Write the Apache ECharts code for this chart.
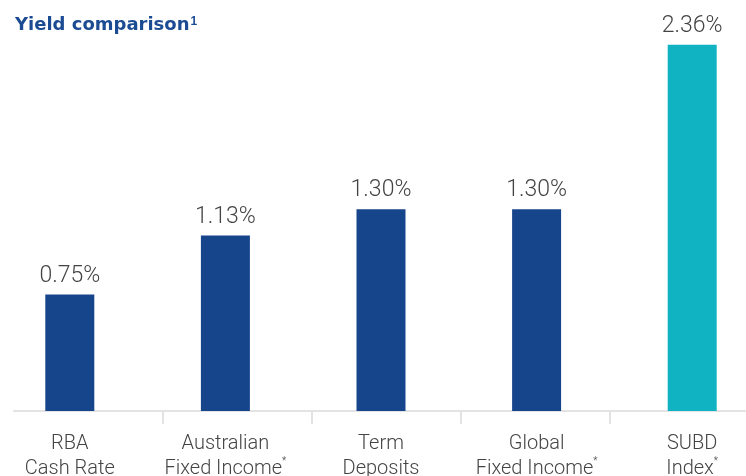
<!DOCTYPE html>
<html>
<head>
<meta charset="utf-8">
<script src="https://cdn.jsdelivr.net/npm/echarts@6/dist/echarts.min.js"></script>
<style>html,body{margin:0;padding:0;background:#fff}#c{width:746px;height:476px}</style>
</head>
<body>
<div id="c"></div>
<script>
var categories = ['RBA\nCash Rate', 'Australian\nFixed Income{sup|*}', 'Term\nDeposits', 'Global\nFixed Income{sup|*}', 'SUBD\nIndex{sup|*}'];
var yields = [0.75, 1.13, 1.30, 1.30, 2.36];
var barColors = ['#17458b', '#17458b', '#17458b', '#17458b', '#10b3c2'];

var chart = echarts.init(document.getElementById('c'), null, {renderer: 'canvas'});
chart.setOption({
  animation: false,
  title: {
    text: 'Yield comparison{sup|1}',
    left: 10,
    top: 11,
    textStyle: {
      fontFamily: 'DejaVu Sans',
      fontWeight: 'bold',
      fontSize: 18,
      color: '#1b4b93',
      rich: {
        sup: {fontFamily: 'Liberation Sans', fontWeight: 'bold', fontSize: 12, color: '#1b4b93', verticalAlign: 'top', padding: [0, 0, 6, 1]}
      }
    }
  },
  grid: [
    {left: -8, right: -24, top: 23, bottom: 65, outerBoundsMode: 'none', containLabel: false},
    {left: 14, right: -13, top: 23, bottom: 65, outerBoundsMode: 'none', containLabel: false}
  ],
  xAxis: [
    {
      type: 'category',
      gridIndex: 0,
      data: categories,
      axisLine: {show: false},
      axisTick: {show: false},
      axisLabel: {
        fontFamily: 'Roboto',
        fontWeight: 300,
        fontSize: 20,
        lineHeight: 25,
        color: '#444',
        margin: 20,
        interval: 0,
        rich: {
          sup: {fontFamily: 'Roboto', fontSize: 10, color: '#444', verticalAlign: 'top', padding: [0, 0, 10, 0]}
        }
      }
    },
    {
      type: 'category',
      gridIndex: 1,
      data: ['', '', '', '', ''],
      boundaryGap: true,
      axisLine: {show: true, lineStyle: {color: '#e3e3e3', width: 2}},
      axisTick: {show: true, length: 13, lineStyle: {color: '#e3e3e3', width: 2},
        interval: function (i) { return i !== 0; }},
      axisLabel: {show: false}
    }
  ],
  yAxis: [
    {type: 'value', gridIndex: 0, min: 0, max: 2.5, show: false},
    {type: 'value', gridIndex: 1, min: 0, max: 2.5, show: false}
  ],
  series: [
    {
      type: 'bar',
      xAxisIndex: 0,
      yAxisIndex: 0,
      barWidth: 49,
      data: yields.map(function (v, i) { return {value: v, itemStyle: {color: barColors[i]}}; }),
      label: {
        show: true,
        position: 'top',
        distance: 7,
        fontFamily: 'Roboto',
        fontWeight: 300,
        fontSize: 23,
        color: '#444',
        formatter: function (p) { return p.value.toFixed(2) + '%'; }
      }
    }
  ]
});
</script>
</body>
</html>
